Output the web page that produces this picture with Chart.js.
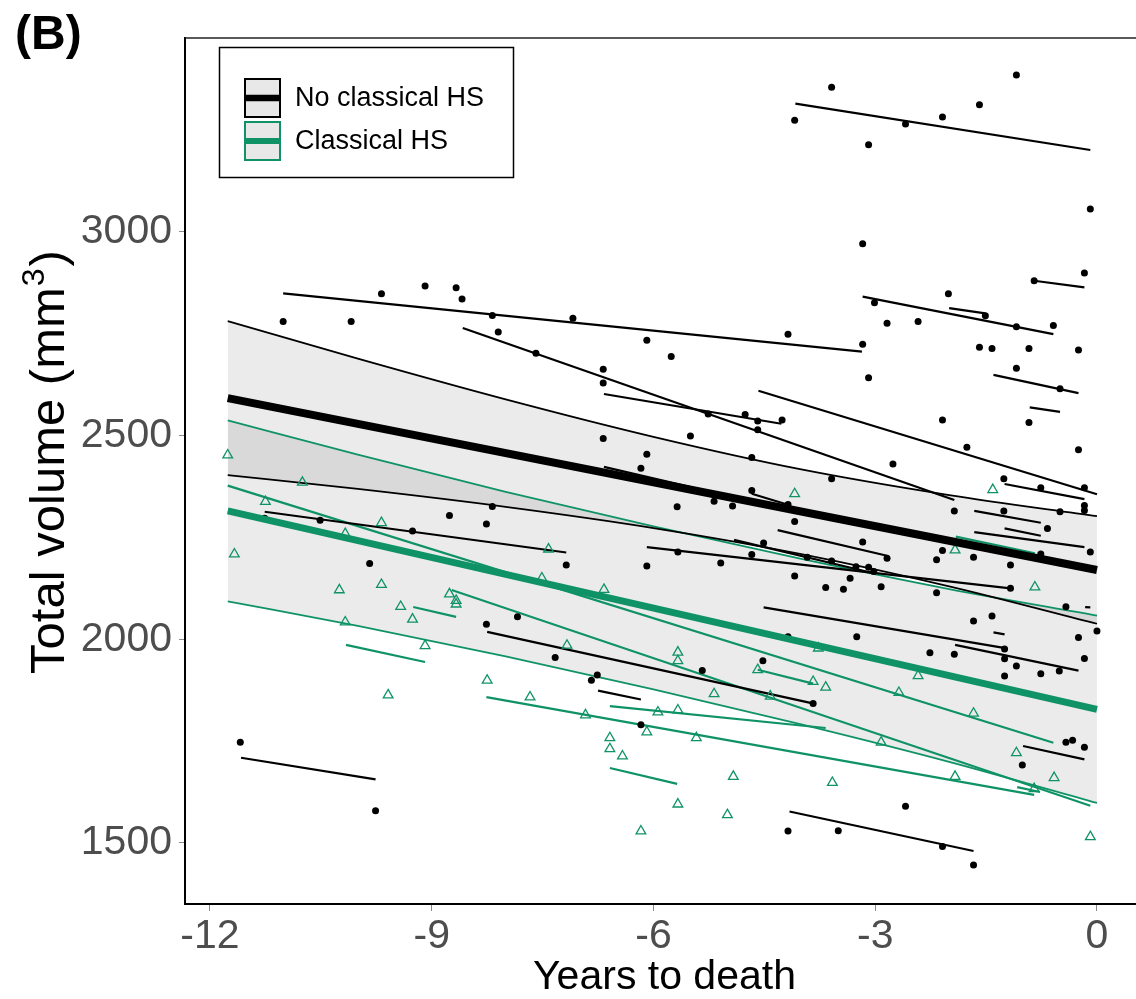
<!DOCTYPE html>
<html>
<head>
<meta charset="utf-8">
<script src="https://cdn.jsdelivr.net/npm/chart.js@4.4.1/dist/chart.umd.min.js"></script>
<style>
  html, body { margin: 0; padding: 0; background: #fff; }
  #wrap { width: 1136px; height: 999px; }
</style>
</head>
<body>
<div id="wrap"><canvas id="chart" width="1136" height="999"></canvas></div>
<script>
// ---------------------------
// Data
// ---------------------------
const xTicks = [-12, -9, -6, -3, 0];
const yTicks = [1500, 2000, 2500, 3000];

// confidence ribbons
const bandX = [-11.76, -10, -8, -6, -4, -2, 0];
const noHsUpper = [2781, 2689, 2589, 2497, 2417, 2354, 2302];
const noHsLower = [2403, 2369, 2325, 2273, 2209, 2130, 2038];
const hsUpper = [2537, 2453, 2362, 2277, 2197, 2123, 2058];
const hsLower = [2093, 2033, 1958, 1877, 1791, 1699, 1598];

// group fits
const fitX = [-11.76, 0];
const noHsFit = [2592, 2170];
const hsFit = [2315, 1828];

// observations [years to death, volume]
const noHsPoints = [
  [-11.01,2780],[-10.09,2780],[-9.68,2848],[-9.09,2867],[-8.67,2863],[-8.59,2835],[-8.18,2795],[-8.10,2754],[-7.59,2702],[-7.09,2788],
  [-6.68,2663],[-6.68,2629],[-6.09,2734],[-6.68,2493],[-6.09,2454],[-6.17,2420],[-8.18,2326],[-8.76,2304],[-8.26,2283],[-11.26,2297],
  [-10.51,2292],[-9.26,2266],[-3.59,3355],[-4.09,3274],[-3.09,3214],[-2.59,3265],[-2.09,3282],[-1.59,3312],[-1.09,3385],[-0.09,3056],
  [-3.17,2971],[-0.17,2899],[-0.85,2880],[-2.01,2848],[-3.01,2826],[-2.84,2776],[-2.42,2780],[-1.51,2794],[-1.09,2767],[-0.59,2770],
  [-1.59,2717],[-1.42,2714],[-0.92,2714],[-0.25,2710],[-3.17,2724],[-4.18,2749],[-5.76,2694],[-1.09,2665],[-3.09,2642],[-0.50,2615],
  [-5.26,2553],[-4.76,2552],[-4.59,2536],[-4.26,2538],[-4.59,2514],[-2.09,2538],[-0.92,2532],[-5.50,2499],[-4.67,2446],[-1.76,2471],
  [-0.25,2465],[-2.76,2430],[-3.59,2394],[-1.26,2394],[-0.76,2372],[-0.17,2372],[-0.17,2328],[-0.17,2316],[-0.50,2313],[-1.26,2315],
  [-1.93,2315],[-4.67,2365],[-4.18,2331],[-5.18,2339],[-4.93,2327],[-5.68,2325],[-4.09,2289],[-0.67,2272],[-3.17,2239],[-4.51,2236],
  [-5.67,2214],[-4.67,2208],[-3.92,2201],[-3.59,2192],[-2.84,2199],[-3.26,2178],[-3.09,2177],[-3.02,2166],[-2.09,2218],[-2.17,2195],
  [-1.67,2201],[-0.76,2209],[-0.09,2214],[-1.17,2182],[-6.09,2180],[-5.09,2187],[-4.09,2155],[-3.34,2150],[-3.67,2127],[-3.43,2123],
  [-2.92,2129],[-2.17,2114],[-1.17,2125],[-0.42,2080],[-1.67,2045],[-1.42,2057],[0.00,2020],[-0.25,2004],[-4.18,2006],[-3.25,2006],
  [-9.84,2186],[-7.18,2182],[-8.26,2037],[-7.84,2055],[-7.33,1955],[-6.76,1912],[-6.84,1899],[-6.17,1790],[-11.59,1747],[-9.76,1579],
  [-2.26,1967],[-1.93,1963],[-1.25,1976],[-1.25,1952],[-1.09,1934],[-1.25,1910],[-0.76,1915],[-0.51,1922],[-4.52,1947],[-5.34,1923],
  [-3.84,1842],[-0.42,1747],[-0.33,1752],[-1.01,1691],[-2.59,1590],[-4.18,1529],[-3.50,1530],[-2.09,1491],[-1.67,1446],[-0.17,1735],
  [-0.17,1953]
];
const hsPoints = [
  [-11.76,2452],[-10.75,2385],[-11.25,2338],[-9.68,2286],[-10.17,2259],[-4.09,2357],[-1.41,2367],[-1.92,2219],[-0.84,2128],[-6.67,2122],
  [-11.67,2209],[-10.25,2121],[-9.68,2134],[-8.76,2111],[-8.67,2095],[-8.67,2086],[-9.42,2080],[-9.26,2049],[-10.17,2042],[-9.09,1984],
  [-8.25,1899],[-9.59,1863],[-7.67,1858],[-6.92,1814],[-7.17,1985],[-7.51,2150],[-7.42,2221],[-6.59,1758],[-6.59,1731],[-6.42,1713],
  [-6.09,1772],[-5.94,1821],[-6.17,1529],[-5.67,1968],[-5.67,1947],[-4.59,1925],[-3.84,1896],[-3.67,1882],[-5.18,1866],[-4.42,1860],
  [-2.42,1910],[-2.68,1869],[-1.67,1818],[-5.67,1826],[-5.42,1758],[-2.92,1747],[-1.09,1721],[-0.58,1660],[-1.92,1663],[-0.85,1633],
  [-4.92,1663],[-3.58,1648],[-5.67,1595],[-5.00,1569],[-3.77,1978],[-0.09,1515]
];

// individual trajectories [x1, y1, x2, y2]
const noHsSegments = [
  [-11.01,2849,-3.18,2706],[-4.08,3315,-0.09,3201],[-8.58,2764,-1.93,2342],[-6.67,2602,-4.27,2529],
  [-6.67,2423,-5.51,2374],[-4.67,2357,-4.18,2330],[-11.26,2313,-7.18,2213],[-11.58,1709,-9.76,1656],
  [-6.09,2226,-1.17,2125],[-4.91,2244,-3.02,2162],[-4.32,2268,-2.84,2205],[-4.58,2610,0.0,2356],
  [-1.40,2649,-0.25,2604],[-0.91,2569,-0.50,2558],[-1.25,2381,-0.17,2344],[-1.66,2315,-0.76,2286],
  [-1.25,2272,-0.76,2254],[-1.66,2263,-0.17,2226],[-3.17,2841,-0.59,2749],[-2.00,2813,-1.51,2800],
  [-0.85,2880,-0.17,2864],[-4.51,2078,-1.24,1978],[-1.92,1986,-0.25,1923],[-8.25,2018,-3.83,1842],
  [-6.75,1874,-6.17,1852],[-1.00,1738,-0.17,1705],[-4.16,1577,-1.67,1480],[-1.40,2017,-1.25,2012],
  [-0.16,2079,-0.09,2078]
];
const hsSegments = [
  [-11.76,2377,-0.59,1746],[-8.73,2121,-0.09,1591],[-8.26,1858,-0.85,1618],[-6.59,1836,-3.67,1782],
  [-6.59,1684,-5.68,1645],[-9.25,2079,-8.67,2055],[-10.16,1986,-9.09,1944],[-1.91,2252,-0.84,2211],
  [-4.59,1925,-3.84,1891],[-1.08,1637,-0.77,1625]
];

// ---------------------------
// Styles
// ---------------------------
const BLACK = "#000000";
const GREEN = "#0f9366";
const BAND = "rgba(55,55,55,0.1)";
const FONT = '"Liberation Sans", Arial, sans-serif';

function pts(xs, ys) {
  return xs.map((x, i) => ({ x: x, y: ys[i] }));
}

const datasets = [];

// ribbons (upper edge fills down to the next dataset)
function addBand(upper, lower, color) {
  datasets.push({
    type: "line", data: pts(bandX, upper), borderColor: color, borderWidth: 1.8,
    pointRadius: 0, fill: "+1", backgroundColor: BAND, cubicInterpolationMode: "monotone", order: 6
  });
  datasets.push({
    type: "line", data: pts(bandX, lower), borderColor: color, borderWidth: 1.8,
    pointRadius: 0, fill: false, cubicInterpolationMode: "monotone", order: 6
  });
}
addBand(noHsUpper, noHsLower, BLACK);
addBand(hsUpper, hsLower, GREEN);

function addSegments(list, color) {
  list.forEach((s) => {
    datasets.push({
      type: "line",
      data: [{ x: s[0], y: s[1] }, { x: s[2], y: s[3] }],
      borderColor: color, borderWidth: 2.2, pointRadius: 0, fill: false, order: 4
    });
  });
}
addSegments(noHsSegments, BLACK);
addSegments(hsSegments, GREEN);

datasets.push({
  type: "scatter",
  data: noHsPoints.map((p) => ({ x: p[0], y: p[1] })),
  pointStyle: "circle", pointRadius: 3.5, backgroundColor: BLACK, borderWidth: 0, order: 2
});
datasets.push({
  type: "scatter",
  data: hsPoints.map((p) => ({ x: p[0], y: p[1] })),
  pointStyle: "triangle", pointRadius: 5.6, backgroundColor: "rgba(0,0,0,0)",
  borderColor: GREEN, borderWidth: 1.3, order: 2
});

datasets.push({
  type: "line", data: pts(fitX, noHsFit), borderColor: BLACK, borderWidth: 8,
  pointRadius: 0, fill: false, borderCapStyle: "butt", order: 0
});
datasets.push({
  type: "line", data: pts(fitX, hsFit), borderColor: GREEN, borderWidth: 7,
  pointRadius: 0, fill: false, borderCapStyle: "butt", order: 0
});

// ---------------------------
// Decorations: border, tag, legend, axis titles
// ---------------------------
const decor = {
  id: "decor",
  afterDraw(chart) {
    const ctx = chart.ctx;
    const a = chart.chartArea;
    ctx.save();

    // top panel border
    ctx.strokeStyle = "#222";
    ctx.lineWidth = 1.6;
    ctx.beginPath();
    ctx.moveTo(a.left, a.top);
    ctx.lineTo(a.right, a.top);
    ctx.stroke();

    // panel tag
    ctx.fillStyle = "#000";
    ctx.textAlign = "left";
    ctx.textBaseline = "alphabetic";
    ctx.font = "bold 48px " + FONT;
    ctx.fillText("(B)", 15, 49);

    // legend
    ctx.fillStyle = "#fff";
    ctx.fillRect(219.5, 47.5, 294, 130);
    ctx.strokeStyle = "#000";
    ctx.lineWidth = 1.5;
    ctx.strokeRect(219.5, 47.5, 294, 130);

    const keys = [
      { y: 78, color: BLACK, lw: 6.4, label: "No classical HS" },
      { y: 121, color: GREEN, lw: 6, label: "Classical HS" }
    ];
    keys.forEach((k) => {
      ctx.fillStyle = "#e8e8e8";
      ctx.fillRect(244, k.y, 37, 40);
      ctx.strokeStyle = k.color;
      ctx.lineWidth = 2;
      ctx.strokeRect(245, k.y + 1, 35, 38);
      ctx.lineWidth = k.lw;
      ctx.beginPath();
      ctx.moveTo(245, k.y + 20);
      ctx.lineTo(280, k.y + 20);
      ctx.stroke();
      ctx.fillStyle = "#000";
      ctx.font = "27px " + FONT;
      ctx.textBaseline = "middle";
      ctx.fillText(k.label, 295, k.y + 21);
    });

    // x title
    ctx.fillStyle = "#000";
    ctx.font = "41px " + FONT;
    ctx.textAlign = "center";
    ctx.textBaseline = "alphabetic";
    ctx.fillText("Years to death", (a.left + a.right) / 2 + 4, 989);

    // y title with superscript
    ctx.translate(64, 462);
    ctx.rotate(-Math.PI / 2);
    ctx.textAlign = "left";
    const main = "Total volume (mm";
    ctx.font = "49px " + FONT;
    const w1 = ctx.measureText(main).width;
    const wClose = ctx.measureText(")").width;
    ctx.font = "32px " + FONT;
    const wSup = ctx.measureText("3").width;
    const x0 = -(w1 + wSup + wClose + 3) / 2;
    ctx.font = "49px " + FONT;
    ctx.fillText(main, x0, 0);
    ctx.font = "32px " + FONT;
    ctx.fillText("3", x0 + w1 + 1, -20);
    ctx.font = "49px " + FONT;
    ctx.fillText(")", x0 + w1 + wSup + 3, 0);

    ctx.restore();
  }
};

// ---------------------------
// Chart
// ---------------------------
const tickFont = { family: FONT, size: 41 };

new Chart(document.getElementById("chart").getContext("2d"), {
  type: "scatter",
  data: { datasets: datasets },
  options: {
    responsive: false,
    animation: false,
    layout: { autoPadding: false, padding: { top: 38, right: 0, left: 0, bottom: 0 } },
    plugins: {
      legend: { display: false },
      tooltip: { enabled: false },
      filler: { propagate: false, drawTime: "beforeDatasetsDraw" }
    },
    scales: {
      x: {
        type: "linear",
        min: -12.338,
        max: 0.528,
        afterBuildTicks: (s) => { s.ticks = xTicks.map((v) => ({ value: v })); },
        afterFit: (s) => { s.height = 95; },
        ticks: { font: tickFont, color: "#4d4d4d", padding: 1, maxRotation: 0, autoSkip: false,
                 callback: (v) => String(v) },
        grid: { drawOnChartArea: false, drawTicks: true, tickLength: 7, color: "#8a8a8a", lineWidth: 1 },
        border: { display: true, color: "#000", width: 2 }
      },
      y: {
        type: "linear",
        min: 1350,
        max: 3476,
        afterBuildTicks: (s) => { s.ticks = yTicks.map((v) => ({ value: v })); },
        afterFit: (s) => { s.width = 185; },
        ticks: { font: tickFont, color: "#4d4d4d", padding: 7, callback: (v) => String(v) },
        grid: { drawOnChartArea: false, drawTicks: true, tickLength: 6, color: "#8a8a8a", lineWidth: 1 },
        border: { display: true, color: "#000", width: 2 }
      }
    }
  },
  plugins: [decor]
});
</script>
</body>
</html>
